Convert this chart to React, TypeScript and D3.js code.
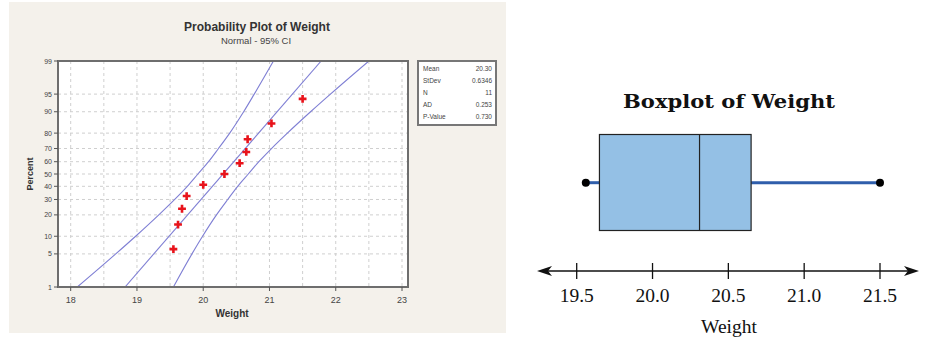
import React from "react";
import * as d3 from "d3";

// ---- Probability plot data ----
const PCT_TICKS = [1, 5, 10, 20, 30, 40, 50, 60, 70, 80, 90, 95, 99];
const X_TICKS = [18, 19, 20, 21, 22, 23];
const X_GRID = [18, 18.5, 19, 19.5, 20, 20.5, 21, 21.5, 22, 22.5, 23];
const WEIGHTS = [19.55, 19.62, 19.68, 19.75, 20.0, 20.32, 20.55, 20.65, 20.67, 21.03, 21.5];
const PCT_POS = [6.1, 14.9, 23.7, 32.5, 41.2, 50, 58.8, 67.5, 76.3, 85.1, 93.9];
const FIT_PCT = [1, 99];
const FIT_X = [18.82, 21.78];
const BAND_PCT = [1, 5, 10, 20, 30, 40, 50, 60, 70, 80, 90, 95, 99];
const BAND_LOW = [18.1, 18.68, 18.98, 19.33, 19.57, 19.76, 19.92, 20.08, 20.23, 20.4, 20.61, 20.77, 21.06];
const BAND_HIGH = [19.55, 19.83, 19.99, 20.2, 20.37, 20.52, 20.68, 20.84, 21.03, 21.27, 21.62, 21.92, 22.5];
const LEGEND_LABELS = ["Mean", "StDev", "N", "AD", "P-Value"];
const LEGEND_VALUES = ["20.30", "0.6346", "11", "0.253", "0.730"];

// ---- Boxplot data ----
const BOX_STATS = [19.56, 19.65, 20.31, 20.65, 21.5]; // min, q1, median, q3, max
const BOX_TICKS = [19.5, 20.0, 20.5, 21.0, 21.5];

// inverse normal CDF (Acklam)
function invNorm(p: number): number {
  const a = [-39.69683028665376, 220.9460984245205, -275.9285104469687, 138.357751867269, -30.66479806614716, 2.506628277459239];
  const b = [-54.47609879822406, 161.5858368580409, -155.6989798598866, 66.80131188771972, -13.28068155288572];
  const c = [-0.007784894002430293, -0.3223964580411365, -2.400758277161838, -2.549732539343734, 4.374664141464968, 2.938163982698783];
  const d = [0.007784695709041462, 0.3224671290700398, 2.445134137142996, 3.754408661907416];
  const pl = 0.02425;
  let q: number, r: number;
  if (p < pl) {
    q = Math.sqrt(-2 * Math.log(p));
    return (((((c[0] * q + c[1]) * q + c[2]) * q + c[3]) * q + c[4]) * q + c[5]) / ((((d[0] * q + d[1]) * q + d[2]) * q + d[3]) * q + 1);
  } else if (p <= 1 - pl) {
    q = p - 0.5;
    r = q * q;
    return ((((((a[0] * r + a[1]) * r + a[2]) * r + a[3]) * r + a[4]) * r + a[5]) * q) / (((((b[0] * r + b[1]) * r + b[2]) * r + b[3]) * r + b[4]) * r + 1);
  } else {
    q = Math.sqrt(-2 * Math.log(1 - p));
    return -(((((c[0] * q + c[1]) * q + c[2]) * q + c[3]) * q + c[4]) * q + c[5]) / ((((d[0] * q + d[1]) * q + d[2]) * q + d[3]) * q + 1);
  }
}

export default function App() {
  // Left panel geometry
  const fL = 58, fR = 408, fT = 61, fB = 287;
  const x = d3.scaleLinear().domain([18, 23]).range([70.7, 402]);
  const zs = d3.scaleLinear().domain([invNorm(0.01), invNorm(0.99)]).range([fB, fT]);
  const y = (pct: number) => zs(invNorm(pct / 100));

  const lineGen = d3
    .line<[number, number]>()
    .x((d) => x(d[0]))
    .y((d) => y(d[1]))
    .curve(d3.curveMonotoneY);

  const fitPath = lineGen(FIT_PCT.map((p, i) => [FIT_X[i], p] as [number, number]))!;
  const lowPath = lineGen(BAND_PCT.map((p, i) => [BAND_LOW[i], p] as [number, number]))!;
  const highPath = lineGen(BAND_PCT.map((p, i) => [BAND_HIGH[i], p] as [number, number]))!;
  const cross = d3.symbol().type(d3.symbolCross).size(34)()!;

  // Right panel geometry
  const bx = d3.scaleLinear().domain([19.5, 21.5]).range([576.7, 880]);
  const boxTop = 134.5, boxBot = 230.5, midY = 182.7;
  const axisY = 271;
  const [mn, q1, med, q3, mx] = BOX_STATS;

  const sans = "'Liberation Sans', Arial, sans-serif";
  const serif = "'Liberation Serif', 'Times New Roman', serif";
  const lineColor = "#7f7fd4";

  return (
    <svg width={927} height={339} style={{ position: "absolute", left: 0, top: 0 }}>
      <rect x={0} y={0} width={927} height={339} fill="#ffffff" />
      {/* Left panel background */}
      <rect x={9} y={2} width={497} height={331} fill="#f4f1eb" />
      <text x={257} y={31} textAnchor="middle" fontFamily={sans} fontSize={12} fontWeight="bold" fill="#333">
        Probability Plot of Weight
      </text>
      <text x={256} y={44} textAnchor="middle" fontFamily={sans} fontSize={9.5} fill="#444">
        Normal - 95% CI
      </text>
      {/* plot area */}
      <rect x={fL} y={fT} width={fR - fL} height={fB - fT} fill="#ffffff" />
      <g stroke="#cfcfcf" strokeWidth={1} strokeDasharray="3,3">
        {X_GRID.map((g) => (
          <line key={"vg" + g} x1={x(g)} x2={x(g)} y1={fT} y2={fB} />
        ))}
        {PCT_TICKS.map((p) => (
          <line key={"hg" + p} x1={fL} x2={fR} y1={y(p)} y2={y(p)} />
        ))}
      </g>
      <defs>
        <clipPath id="plotclip">
          <rect x={fL} y={fT} width={fR - fL} height={fB - fT} />
        </clipPath>
      </defs>
      <g clipPath="url(#plotclip)" fill="none" stroke={lineColor} strokeWidth={1.1}>
        <path d={lowPath} />
        <path d={fitPath} />
        <path d={highPath} />
      </g>
      {WEIGHTS.map((w, i) => (
        <path key={"pt" + i} d={cross} transform={`translate(${x(w)},${y(PCT_POS[i])})`} fill="#e8131b" />
      ))}
      <rect x={fL} y={fT} width={fR - fL} height={fB - fT} fill="none" stroke="#6e6e6e" strokeWidth={2} />
      {/* y axis ticks */}
      {PCT_TICKS.map((p) => (
        <g key={"yt" + p}>
          <line x1={fL - 4} x2={fL} y1={y(p)} y2={y(p)} stroke="#555" />
          <text x={fL - 6} y={y(p) + 2.5} textAnchor="end" fontFamily={sans} fontSize={7} fill="#444">
            {p}
          </text>
        </g>
      ))}
      {X_TICKS.map((t) => (
        <g key={"xt" + t}>
          <line x1={x(t)} x2={x(t)} y1={fB} y2={fB + 4} stroke="#555" />
          <text x={x(t)} y={fB + 16} textAnchor="middle" fontFamily={sans} fontSize={9} fill="#444">
            {t}
          </text>
        </g>
      ))}
      <text x={232} y={317} textAnchor="middle" fontFamily={sans} fontSize={10} fontWeight="bold" fill="#333">
        Weight
      </text>
      <text
        transform={`translate(33,${(fT + fB) / 2}) rotate(-90)`}
        textAnchor="middle"
        fontFamily={sans}
        fontSize={9}
        fontWeight="bold"
        fill="#333"
      >
        Percent
      </text>
      {/* legend */}
      <rect x={418} y={61} width={78} height={64} fill="#ffffff" stroke="#777" strokeWidth={2} />
      {LEGEND_LABELS.map((l, i) => (
        <g key={"lg" + i}>
          <text x={423} y={71 + i * 12} fontFamily={sans} fontSize={6.5} fill="#444">
            {l}
          </text>
          <text x={492} y={71 + i * 12} textAnchor="end" fontFamily={sans} fontSize={6.5} fill="#444">
            {LEGEND_VALUES[i]}
          </text>
        </g>
      ))}

      {/* Right panel: boxplot */}
      <text
        x={729}
        y={108}
        textAnchor="middle"
        fontFamily="'DejaVu Serif', serif"
        fontSize={18}
        fontWeight="bold"
        fill="#111"
        textLength={212}
        lengthAdjust="spacingAndGlyphs"
      >
        Boxplot of Weight
      </text>
      <line x1={bx(mn)} x2={bx(q1)} y1={midY} y2={midY} stroke="#2f5eab" strokeWidth={3} />
      <line x1={bx(q3)} x2={bx(mx)} y1={midY} y2={midY} stroke="#2f5eab" strokeWidth={3} />
      <rect x={bx(q1)} y={boxTop} width={bx(q3) - bx(q1)} height={boxBot - boxTop} fill="#94c0e5" stroke="#222" strokeWidth={1.2} />
      <line x1={bx(med)} x2={bx(med)} y1={boxTop} y2={boxBot} stroke="#222" strokeWidth={1.2} />
      <circle cx={bx(mn)} cy={midY} r={4} fill="#000" />
      <circle cx={bx(mx)} cy={midY} r={4} fill="#000" />
      {/* number line */}
      <line x1={542} x2={914} y1={axisY} y2={axisY} stroke="#111" strokeWidth={1.5} />
      <path d={`M537,${axisY} L552,${axisY - 5} L548,${axisY} L552,${axisY + 5} Z`} fill="#111" />
      <path d={`M919,${axisY} L904,${axisY - 5} L908,${axisY} L904,${axisY + 5} Z`} fill="#111" />
      {BOX_TICKS.map((t) => (
        <g key={"bt" + t}>
          <line x1={bx(t)} x2={bx(t)} y1={axisY - 8} y2={axisY + 8} stroke="#111" strokeWidth={1.3} />
          <text x={bx(t)} y={302} textAnchor="middle" fontFamily={serif} fontSize={19.5} fill="#111">
            {t.toFixed(1)}
          </text>
        </g>
      ))}
      <text x={729} y={333} textAnchor="middle" fontFamily={serif} fontSize={19.5} fill="#111">
        Weight
      </text>
    </svg>
  );
}
